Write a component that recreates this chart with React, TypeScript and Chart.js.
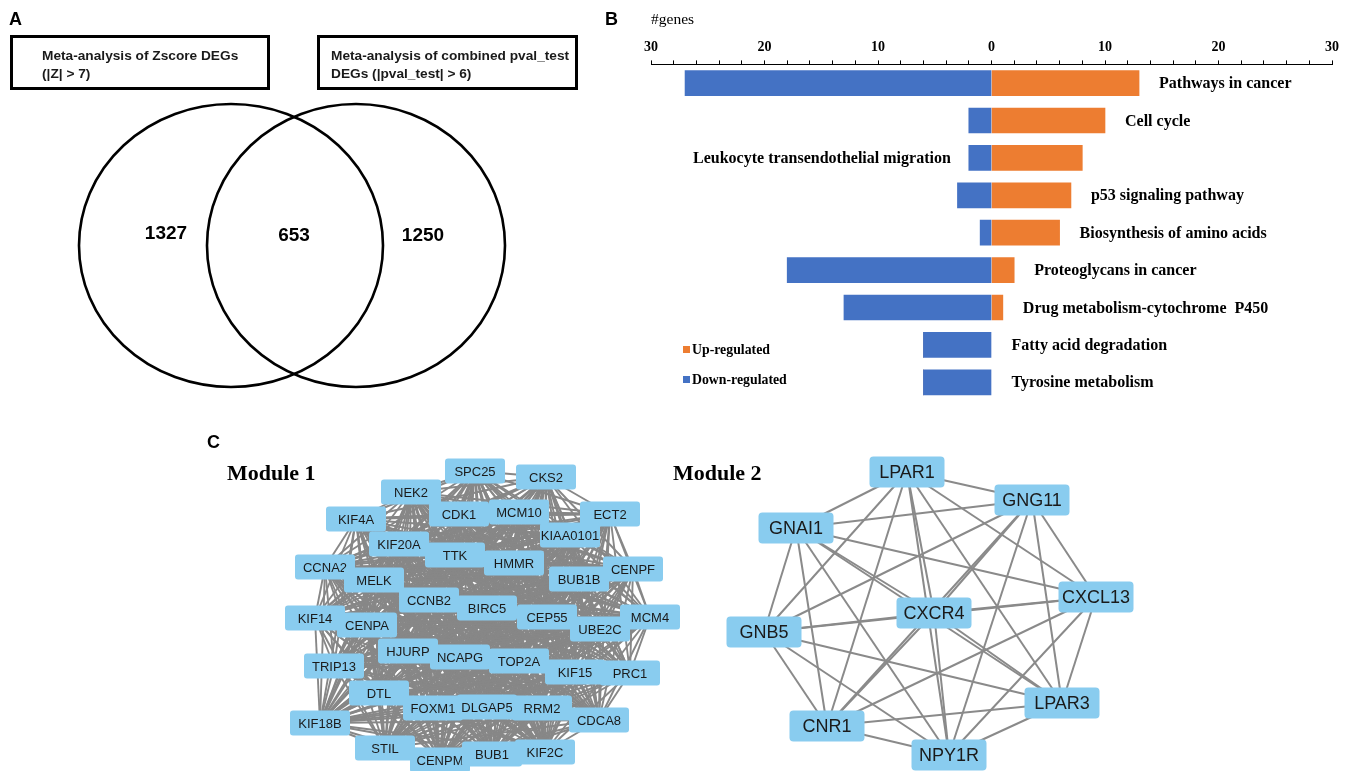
import React, { useEffect, useRef } from 'react';
import { Chart, registerables } from 'chart.js';
Chart.register(...registerables);

const SANS = "'Liberation Sans', Arial, sans-serif";
const SERIF = "'Liberation Serif', 'Times New Roman', serif";

// ---------- Panel A: Venn ----------
const vennSetTitles = [
  ['Meta-analysis of Zscore DEGs', '(|Z| > 7)'],
  ['Meta-analysis of combined pval_test', 'DEGs (|pval_test| > 6)'],
];
const vennCounts = [1327, 653, 1250];
const vennCountX = [166, 294, 423];
const vennCountY = [234, 236, 236];
const vennCircleCx = [231, 356];
const vennCircleCy = [245.5, 245.5];
const vennCircleRx = [152, 149];
const vennCircleRy = [141.5, 141.5];

// ---------- Panel B: KEGG bars ----------
const categories = [
  'Pathways in cancer',
  'Cell cycle',
  'Leukocyte transendothelial migration',
  'p53 signaling pathway',
  'Biosynthesis of amino acids',
  'Proteoglycans in cancer',
  'Drug metabolism-cytochrome  P450',
  'Fatty acid degradation',
  'Tyrosine metabolism',
];
const upRegulated = [13, 10, 8, 7, 6, 2, 1, 0, 0];
const downRegulated = [27, 2, 2, 3, 1, 18, 13, 6, 6];
const labelSide = ['right', 'right', 'left', 'right', 'right', 'right', 'right', 'right', 'right'];
const axisTickLabels = [30, 20, 10, 0, 10, 20, 30];

// ---------- Panel C: networks ----------
const module1Names = [
  'SPC25', 'CKS2', 'NEK2', 'CDK1', 'MCM10', 'ECT2', 'KIF4A', 'KIAA0101', 'KIF20A', 'TTK',
  'HMMR', 'CENPF', 'CCNA2', 'BUB1B', 'MELK', 'CCNB2', 'BIRC5', 'CEP55', 'MCM4', 'KIF14',
  'UBE2C', 'CENPA', 'HJURP', 'NCAPG', 'TOP2A', 'KIF15', 'PRC1', 'TRIP13', 'DTL', 'FOXM1',
  'DLGAP5', 'RRM2', 'CDCA8', 'KIF18B', 'STIL', 'CENPM', 'BUB1', 'KIF2C',
];
const module1X = [
  475, 546, 411, 459, 519, 610, 356, 570, 399, 455,
  514, 633, 325, 579, 374, 429, 487, 547, 650, 315,
  600, 367, 408, 460, 519, 575, 630, 334, 379, 433,
  487, 542, 599, 320, 385, 440, 492, 545,
];
const module1Y = [
  471, 477, 492, 514, 512, 514, 519, 535, 544, 555,
  563, 569, 567, 579, 580, 600, 608, 617, 617, 618,
  629, 625, 651, 657, 661, 672, 673, 666, 693, 708,
  707, 708, 720, 723, 748, 760, 754, 752,
];
const module2Names = ['LPAR1', 'GNG11', 'GNAI1', 'CXCL13', 'CXCR4', 'GNB5', 'LPAR3', 'CNR1', 'NPY1R'];
const module2X = [907, 1032, 796, 1096, 934, 764, 1062, 827, 949];
const module2Y = [472, 500, 528, 597, 613, 632, 703, 726, 755];

const BLUE = '#4472C4';
const ORANGE = '#ED7D31';
const NODE_FILL = '#89CCEF';

export default function App() {
  const vennRef = useRef<HTMLCanvasElement>(null);
  const barRef = useRef<HTMLCanvasElement>(null);
  const netRef = useRef<HTMLCanvasElement>(null);

  useEffect(() => {
    const charts: Chart[] = [];

    // ---- Venn ----
    const vennPlugin = {
      id: 'vennDraw',
      afterDatasetsDraw(chart: any) {
        const ctx = chart.ctx;
        const xs = chart.scales.x;
        const ys = chart.scales.y;
        ctx.save();
        ctx.strokeStyle = '#000';
        ctx.lineWidth = 2.6;
        for (let i = 0; i < vennCircleCx.length; i++) {
          const cx = xs.getPixelForValue(vennCircleCx[i]);
          const cy = ys.getPixelForValue(vennCircleCy[i]);
          const rx = Math.abs(xs.getPixelForValue(vennCircleCx[i] + vennCircleRx[i]) - cx);
          const ry = Math.abs(ys.getPixelForValue(vennCircleCy[i] + vennCircleRy[i]) - cy);
          ctx.beginPath();
          ctx.ellipse(cx, cy, rx, ry, 0, 0, Math.PI * 2);
          ctx.stroke();
        }
        const meta = chart.getDatasetMeta(0);
        ctx.fillStyle = '#000';
        ctx.font = `bold 19px ${SANS}`;
        ctx.textAlign = 'center';
        ctx.textBaseline = 'middle';
        meta.data.forEach((pt: any, i: number) => {
          ctx.fillText(String(vennCounts[i]), pt.x, pt.y);
        });
        ctx.restore();
      },
    };
    charts.push(
      new Chart(vennRef.current!, {
        type: 'scatter',
        data: {
          datasets: [
            {
              data: vennCounts.map((_, i) => ({ x: vennCountX[i], y: vennCountY[i] })),
              pointRadius: 0,
            },
          ],
        },
        options: {
          animation: false,
          responsive: false,
          events: [],
          layout: { padding: 0 },
          plugins: { legend: { display: false }, tooltip: { enabled: false } },
          scales: {
            x: { type: 'linear', min: 0, max: 600, display: false },
            y: { type: 'linear', min: 0, max: 420, reverse: true, display: false },
          },
        },
        plugins: [vennPlugin],
      } as any)
    );

    // ---- Bar chart ----
    const barLabelPlugin = {
      id: 'barLabels',
      afterDatasetsDraw(chart: any) {
        const ctx = chart.ctx;
        const xs = chart.scales.x;
        const ys = chart.scales.y;
        ctx.save();
        ctx.fillStyle = '#000';
        ctx.font = `bold 16px ${SERIF}`;
        ctx.textBaseline = 'middle';
        categories.forEach((c, i) => {
          const y = ys.getPixelForValue(i) + 1;
          if (labelSide[i] === 'left') {
            ctx.textAlign = 'right';
            ctx.fillText(c, xs.getPixelForValue(-downRegulated[i]) - 18, y);
          } else {
            ctx.textAlign = 'left';
            ctx.fillText(c, xs.getPixelForValue(upRegulated[i]) + 20, y);
          }
        });
        // legend
        const items = [
          { label: chart.data.datasets[1].label, color: chart.data.datasets[1].backgroundColor, y: 350 },
          { label: chart.data.datasets[0].label, color: chart.data.datasets[0].backgroundColor, y: 380 },
        ];
        ctx.font = `bold 13.8px ${SERIF}`;
        ctx.textAlign = 'left';
        items.forEach((it) => {
          ctx.fillStyle = it.color;
          ctx.fillRect(83, it.y - 4, 7, 7);
          ctx.fillStyle = '#000';
          ctx.fillText(it.label, 92, it.y);
        });
        ctx.restore();
      },
    };
    charts.push(
      new Chart(barRef.current!, {
        type: 'bar',
        data: {
          labels: categories,
          datasets: [
            {
              label: 'Down-regulated',
              data: downRegulated.map((v) => -v),
              backgroundColor: BLUE,
              barThickness: 25,
            },
            {
              label: 'Up-regulated',
              data: upRegulated,
              backgroundColor: ORANGE,
              barThickness: 25,
            },
          ],
        },
        options: {
          animation: false,
          responsive: false,
          events: [],
          indexAxis: 'y',
          layout: { padding: { top: 11, left: 51, right: 22, bottom: 19 } },
          plugins: { legend: { display: false }, tooltip: { enabled: false } },
          scales: {
            x: {
              type: 'linear',
              position: 'top',
              stacked: true,
              min: -30,
              max: 30,
              ticks: {
                stepSize: 2,
                autoSkip: false,
                maxRotation: 0,
                padding: 5,
                color: '#000',
                font: { family: SERIF, size: 14, weight: 'bold' },
                callback: (v: any) => {
                  const n = Math.round(Number(v));
                  if (n % 10 !== 0) return '';
                  const idx = (n + 30) / 10;
                  return String(axisTickLabels[idx]);
                },
              },
              grid: { drawOnChartArea: false, drawTicks: true, tickLength: 4, color: '#000', lineWidth: 1 },
              border: { display: true, color: '#000', width: 1 },
              title: {
                display: true,
                text: '#genes',
                align: 'start',
                color: '#000',
                font: { family: SERIF, size: 15.5 },
                padding: { top: 0, bottom: 4 },
              },
            },
            y: { type: 'category', stacked: true, display: false, offset: true },
          },
        },
        plugins: [barLabelPlugin],
      } as any)
    );

    // ---- Networks ----
    const nodeNames = [module1Names, module2Names];
    const nodeStyle = [
      { w: 60, h: 25, r: 3, font: `13px ${SANS}`, edge: '#878787', edgeWidth: 1.9 },
      { w: 75, h: 31, r: 4, font: `18px ${SANS}`, edge: '#8a8a8a', edgeWidth: 2 },
    ];
    const netPlugin = {
      id: 'network',
      beforeDatasetsDraw(chart: any) {
        const ctx = chart.ctx;
        ctx.save();
        chart.data.datasets.forEach((_: any, d: number) => {
          const pts = chart.getDatasetMeta(d).data;
          ctx.strokeStyle = nodeStyle[d].edge;
          ctx.lineWidth = nodeStyle[d].edgeWidth;
          for (let i = 0; i < pts.length; i++) {
            for (let j = i + 1; j < pts.length; j++) {
              ctx.beginPath();
              ctx.moveTo(pts[i].x, pts[i].y);
              ctx.lineTo(pts[j].x, pts[j].y);
              ctx.stroke();
            }
          }
        });
        ctx.restore();
      },
      afterDatasetsDraw(chart: any) {
        const ctx = chart.ctx;
        ctx.save();
        chart.data.datasets.forEach((_: any, d: number) => {
          const pts = chart.getDatasetMeta(d).data;
          const st = nodeStyle[d];
          pts.forEach((p: any, i: number) => {
            ctx.fillStyle = NODE_FILL;
            ctx.beginPath();
            (ctx as any).roundRect(p.x - st.w / 2, p.y - st.h / 2, st.w, st.h, st.r);
            ctx.fill();
            ctx.fillStyle = '#1a1a1a';
            ctx.font = st.font;
            ctx.textAlign = 'center';
            ctx.textBaseline = 'middle';
            ctx.fillText(nodeNames[d][i], p.x, p.y + 1);
          });
        });
        ctx.restore();
      },
    };
    charts.push(
      new Chart(netRef.current!, {
        type: 'scatter',
        data: {
          datasets: [
            { label: 'Module 1', data: module1Names.map((_, i) => ({ x: module1X[i], y: module1Y[i] })), pointRadius: 0 },
            { label: 'Module 2', data: module2Names.map((_, i) => ({ x: module2X[i], y: module2Y[i] })), pointRadius: 0 },
          ],
        },
        options: {
          animation: false,
          responsive: false,
          events: [],
          layout: { padding: 0 },
          plugins: { legend: { display: false }, tooltip: { enabled: false } },
          scales: {
            x: { type: 'linear', min: 0, max: 1354, display: false },
            y: { type: 'linear', min: 420, max: 771, reverse: true, display: false },
          },
        },
        plugins: [netPlugin],
      } as any)
    );

    return () => charts.forEach((c) => c.destroy());
  }, []);

  const abs = (left: number, top: number, extra: any = {}) => ({ position: 'absolute' as const, left, top, ...extra });
  const letter = { fontFamily: SANS, fontWeight: 'bold', fontSize: 18, lineHeight: '18px', color: '#000', margin: 0 };
  const boxText = { fontFamily: SANS, fontWeight: 'bold', fontSize: 13.7, lineHeight: '18px', color: '#1a1a1a', whiteSpace: 'nowrap' as const };
  const moduleTitle = { fontFamily: SERIF, fontWeight: 'bold', fontSize: 22, lineHeight: '22px', color: '#000', whiteSpace: 'nowrap' as const };

  return (
    <div style={{ position: 'absolute', left: 0, top: 0, width: 1354, height: 771, background: '#fff', overflow: 'hidden' }}>
      <canvas ref={vennRef} width={600} height={420} style={abs(0, 0, { width: 600, height: 420 })} />
      <canvas ref={barRef} width={754} height={420} style={abs(600, 0, { width: 754, height: 420 })} />
      <canvas ref={netRef} width={1354} height={351} style={abs(0, 420, { width: 1354, height: 351 })} />

      <div style={abs(9, 9.5, letter)}>A</div>
      <div style={abs(605, 9.5, letter)}>B</div>
      <div style={abs(207, 432.5, letter)}>C</div>

      <div style={abs(10, 35, { width: 260, height: 55, border: '3px solid #000', boxSizing: 'border-box' })} />
      <div style={abs(317, 35, { width: 261, height: 55, border: '3px solid #000', boxSizing: 'border-box' })} />
      <div style={abs(42, 47, boxText)}>
        <div>{vennSetTitles[0][0]}</div>
        <div>{vennSetTitles[0][1]}</div>
      </div>
      <div style={abs(331, 47, boxText)}>
        <div>{vennSetTitles[1][0]}</div>
        <div>{vennSetTitles[1][1]}</div>
      </div>

      <div style={abs(227, 461.6, moduleTitle)}>Module 1</div>
      <div style={abs(673, 461.6, moduleTitle)}>Module 2</div>
    </div>
  );
}
